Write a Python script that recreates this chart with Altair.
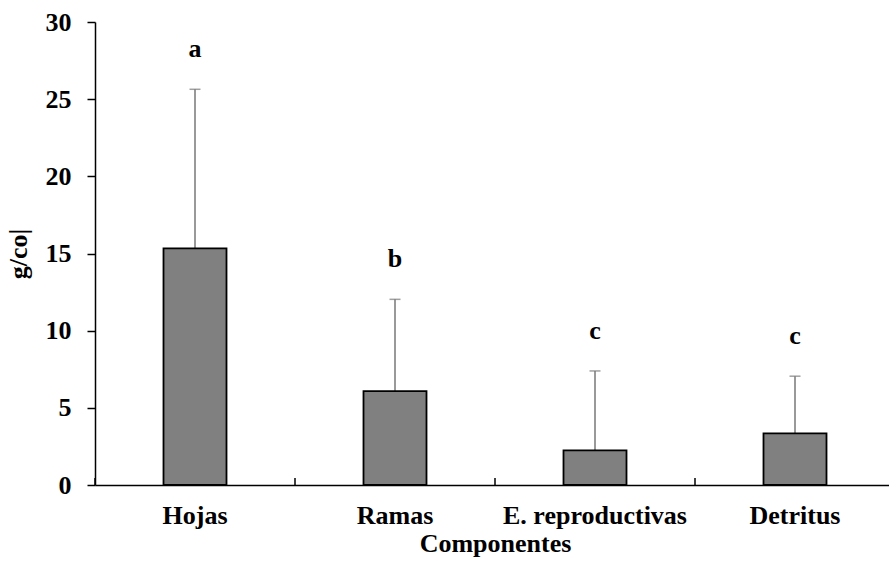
import altair as alt
import pandas as pd

# Hojarasca por componente: media, desviación y letra de significancia
componentes = ["Hojas", "Ramas", "E. reproductivas", "Detritus"]
media = [15.33, 6.08, 2.25, 3.35]
desviacion = [10.31, 5.95, 5.14, 3.70]
letras = ["a", "b", "c", "c"]

df = pd.DataFrame({
    "componente": componentes,
    "media": media,
    "desv": desviacion,
    "letra": letras,
})
df["sup"] = df["media"] + df["desv"]

FONT = "Liberation Serif"
FS = 26
W, H = 794, 463

x_enc = alt.X(
    "componente:N",
    sort=componentes,
    scale=alt.Scale(range=[0, 800], paddingInner=0, paddingOuter=0),
    axis=alt.Axis(
        title="Componentes",
        ticks=False,
        labelAngle=0,
        labelAlign="center",
        labelLimit=400,
        labelPadding=30,
        titlePadding=2,
        domainColor="black",
        domainWidth=1.5,
    ),
)

base = alt.Chart(df)

bars = base.mark_bar(
    size=63, color="#808080", stroke="black", strokeWidth=1.8
).encode(
    x=x_enc,
    y=alt.Y(
        "media:Q",
        scale=alt.Scale(domain=[0, 30], nice=False),
        axis=alt.Axis(
            title="g/co|",
            values=[0, 5, 10, 15, 20, 25, 30],
            grid=False,
            tickSize=8,
            tickColor="black",
            tickWidth=1.5,
            labelPadding=16,
            titlePadding=14,
            domainColor="black",
            domainWidth=1.5,
        ),
    ),
)

err = base.mark_rule(color="#777777", strokeWidth=1.5).encode(
    x=alt.X("componente:N", sort=componentes),
    y="media:Q",
    y2="sup:Q",
)

caps = base.mark_tick(color="#777777", size=11, thickness=1.5).encode(
    x=alt.X("componente:N", sort=componentes),
    y="sup:Q",
)

letters = base.mark_text(
    font=FONT, fontSize=FS, fontWeight="bold", baseline="middle", dy=-40, color="black"
).encode(
    x=alt.X("componente:N", sort=componentes),
    y="sup:Q",
    text="letra:N",
)

# small inward ticks at the category boundaries
sep = base.mark_rule(color="black", strokeWidth=1.5).encode(
    x=alt.X("componente:N", sort=componentes, bandPosition=0),
    y=alt.value(H),
    y2=alt.value(H - 7),
)

chart = alt.layer(err, bars, caps, letters, sep).properties(
    width=W,
    height=H,
    autosize=alt.AutoSizeParams(type="none"),
    padding={"left": 95, "top": 22, "right": 0, "bottom": 82},
).configure_view(
    stroke=None
).configure_axis(
    labelFont=FONT,
    titleFont=FONT,
    labelFontSize=FS,
    titleFontSize=FS,
    labelFontWeight="bold",
    titleFontWeight="bold",
    labelColor="black",
    titleColor="black",
)

chart.save("out.html", embed_options={"renderer": "svg", "actions": False})
